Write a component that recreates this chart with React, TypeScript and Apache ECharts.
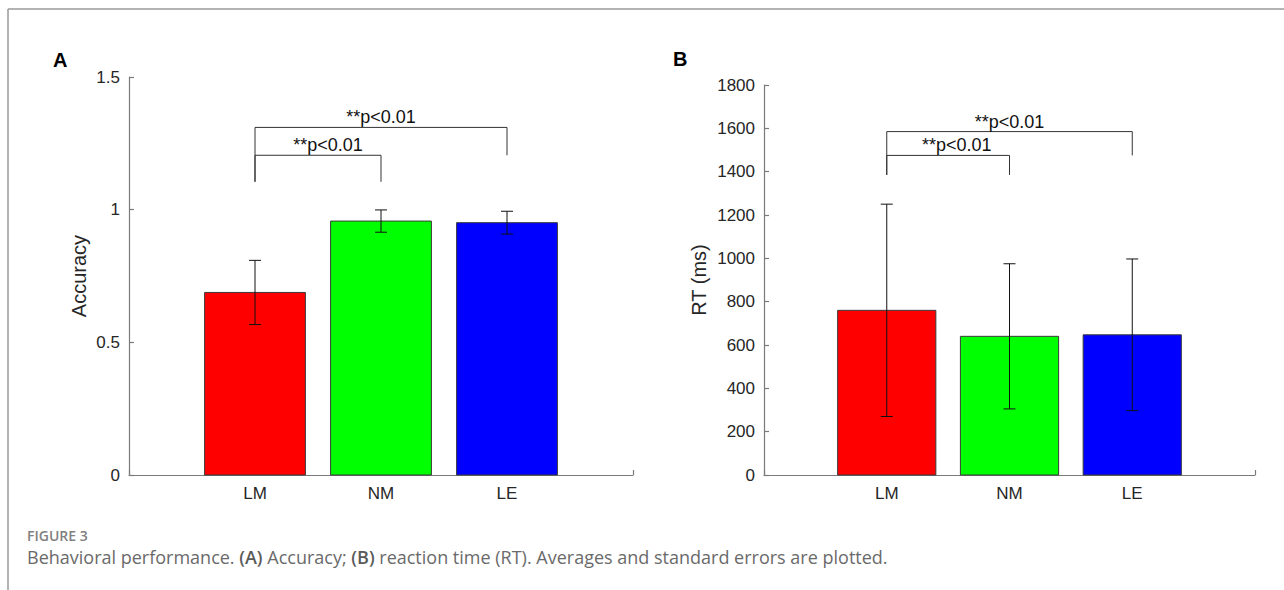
import React, { useEffect, useRef } from "react";
import * as echarts from "echarts";

const categories = ["LM", "NM", "LE"];
const barColors = ["#ff0000", "#00ff00", "#0000ff"];
const accuracyMean = [0.688, 0.957, 0.951];
const accuracyErr = [0.121, 0.042, 0.043];
const rtMean = [760, 640, 647];
const rtErr = [490, 335, 350];
const accuracyTicks = [0, 0.5, 1, 1.5];
const rtTicks = [0, 200, 400, 600, 800, 1000, 1200, 1400, 1600, 1800];
// brackets: [x1, x2, yTop, yLeftBottom, yRightBottom, textX, label]
const accuracyBrackets: [number, number, number, number, number, number, string][] = [
  [1, 3, 1.31, 1.105, 1.205, 2.0, "**p<0.01"],
  [1, 2, 1.205, 1.105, 1.105, 1.58, "**p<0.01"],
];
const rtBrackets: [number, number, number, number, number, number, string][] = [
  [1, 3, 1585, 1385, 1475, 2.0, "**p<0.01"],
  [1, 2, 1475, 1385, 1385, 1.57, "**p<0.01"],
];

const FONT = "'Liberation Sans', Arial, Helvetica, sans-serif";
const CAPFONT = "'Open Sans', Lato, sans-serif";

function makeXAxis(gridIndex: number) {
  return {
    type: "value",
    gridIndex,
    min: 0,
    max: 4,
    interval: 1,
    axisLine: { show: true, lineStyle: { color: "#7a7a7a", width: 1.2 } },
    axisTick: { show: true, inside: true, length: 5, lineStyle: { color: "#7a7a7a", width: 1.2 } },
    splitLine: { show: false },
    axisLabel: {
      fontFamily: FONT,
      fontSize: 17,
      color: "#262626",
      margin: 10,
      formatter: (v: number) => (v >= 1 && v <= 3 ? categories[v - 1] : ""),
    },
  };
}

function makeYAxis(gridIndex: number, ticks: number[], name: string, nameGap: number) {
  return {
    type: "value",
    gridIndex,
    min: ticks[0],
    max: ticks[ticks.length - 1],
    interval: ticks[1] - ticks[0],
    name,
    nameLocation: "middle",
    nameGap,
    nameRotate: 90,
    nameTextStyle: { fontFamily: FONT, fontSize: 20, color: "#262626" },
    axisLine: { show: true, lineStyle: { color: "#7a7a7a", width: 1.2 } },
    axisTick: { show: true, inside: true, length: 5, lineStyle: { color: "#7a7a7a", width: 1.2 } },
    splitLine: { show: false },
    axisLabel: {
      fontFamily: FONT,
      fontSize: 17,
      color: "#262626",
      margin: 9,
      formatter: (v: number) => String(v),
    },
  };
}

function barSeries(idx: number, means: number[]) {
  return {
    type: "custom",
    xAxisIndex: idx,
    yAxisIndex: idx,
    z: 3,
    data: means.map((m, i) => [i + 1, m, i]),
    renderItem: (_p: any, api: any) => {
      const x = api.value(0);
      const v = api.value(1);
      const ci = api.value(2);
      const p0 = api.coord([x - 0.4, v]);
      const p1 = api.coord([x + 0.4, 0]);
      return {
        type: "rect",
        shape: { x: p0[0], y: p0[1], width: p1[0] - p0[0], height: p1[1] - p0[1] },
        style: { fill: barColors[ci], stroke: "#3a3a3a", lineWidth: 1 },
      };
    },
  };
}

function errSeries(idx: number, means: number[], errs: number[]) {
  return {
    type: "custom",
    xAxisIndex: idx,
    yAxisIndex: idx,
    z: 4,
    data: means.map((m, i) => [i + 1, m - errs[i], m + errs[i]]),
    renderItem: (_p: any, api: any) => {
      const x = api.value(0);
      const lo = api.coord([x, api.value(1)]);
      const hi = api.coord([x, api.value(2)]);
      const cap = 6;
      const st = { stroke: "#111", lineWidth: 1 };
      return {
        type: "group",
        children: [
          { type: "line", shape: { x1: lo[0], y1: lo[1], x2: hi[0], y2: hi[1] }, style: st },
          { type: "line", shape: { x1: lo[0] - cap, y1: lo[1], x2: lo[0] + cap, y2: lo[1] }, style: st },
          { type: "line", shape: { x1: hi[0] - cap, y1: hi[1], x2: hi[0] + cap, y2: hi[1] }, style: st },
        ],
      };
    },
  };
}

function bracketSeries(idx: number, br: typeof accuracyBrackets) {
  return {
    type: "custom",
    xAxisIndex: idx,
    yAxisIndex: idx,
    z: 5,
    clip: false,
    data: br.map((b) => [b[0], b[1], b[2], b[3], b[4], b[5]]),
    renderItem: (params: any, api: any) => {
      const tl = api.coord([api.value(0), api.value(2)]);
      const tr = api.coord([api.value(1), api.value(2)]);
      const bl = api.coord([api.value(0), api.value(3)]);
      const brc = api.coord([api.value(1), api.value(4)]);
      const tx = api.coord([api.value(5), api.value(2)]);
      const st = { stroke: "#333", lineWidth: 1, fill: "none" };
      return {
        type: "group",
        children: [
          {
            type: "polyline",
            shape: { points: [bl, tl, tr, brc] },
            style: st,
          },
          {
            type: "text",
            x: tx[0],
            y: tx[1] - 1,
            style: {
              text: br[params.dataIndex][6],
              fontFamily: FONT,
              fontSize: 18,
              fill: "#111",
              align: "center",
              verticalAlign: "bottom",
            },
          },
        ],
      };
    },
  };
}

export default function App() {
  const ref = useRef<HTMLDivElement>(null);
  useEffect(() => {
    if (!ref.current) return;
    const chart = echarts.init(ref.current, undefined, { renderer: "svg" });
    chart.setOption({
      animation: false,
      backgroundColor: "#ffffff",
      grid: [
        { left: 129, top: 77, width: 504, height: 398 },
        { left: 764, top: 85, width: 491, height: 390 },
      ],
      xAxis: [makeXAxis(0), makeXAxis(1)],
      yAxis: [
        makeYAxis(0, accuracyTicks, "Accuracy", 40),
        makeYAxis(1, rtTicks, "RT (ms)", 55),
      ],
      series: [
        barSeries(0, accuracyMean),
        errSeries(0, accuracyMean, accuracyErr),
        bracketSeries(0, accuracyBrackets),
        barSeries(1, rtMean),
        errSeries(1, rtMean, rtErr),
        bracketSeries(1, rtBrackets),
      ],
      graphic: [
        { type: "line", shape: { x1: 8, y1: 9, x2: 1284, y2: 9 }, style: { stroke: "#9a9a9a", lineWidth: 1.5 } },
        { type: "line", shape: { x1: 8, y1: 9, x2: 8, y2: 590 }, style: { stroke: "#9a9a9a", lineWidth: 1.5 } },
        {
          type: "text",
          x: 53,
          y: 60,
          style: { text: "A", fontFamily: FONT, fontSize: 20, fontWeight: "bold", fill: "#000", verticalAlign: "middle" },
        },
        {
          type: "text",
          x: 673,
          y: 59,
          style: { text: "B", fontFamily: FONT, fontSize: 20, fontWeight: "bold", fill: "#000", verticalAlign: "middle" },
        },
        {
          type: "text",
          x: 27,
          y: 535,
          style: { text: "FIGURE 3", fontFamily: CAPFONT, fontSize: 14, fontWeight: 600, fill: "#808080", verticalAlign: "middle" },
        },
        {
          type: "text",
          x: 27,
          y: 557,
          style: {
            text: "Behavioral performance. {b|(A)} Accuracy; {b|(B)} reaction time (RT). Averages and standard errors are plotted.",
            fontFamily: CAPFONT,
            fontSize: 18,
            fill: "#6a6a6a",
            verticalAlign: "middle",
            rich: {
              b: { fontFamily: CAPFONT, fontSize: 18, fontWeight: 600, fill: "#5a5a5a" },
            },
          },
        },
      ],
    });
    return () => chart.dispose();
  }, []);
  return (
    <div
      ref={ref}
      style={{ position: "fixed", left: 0, top: 0, width: 1284, height: 590, background: "#fff" }}
    />
  );
}
